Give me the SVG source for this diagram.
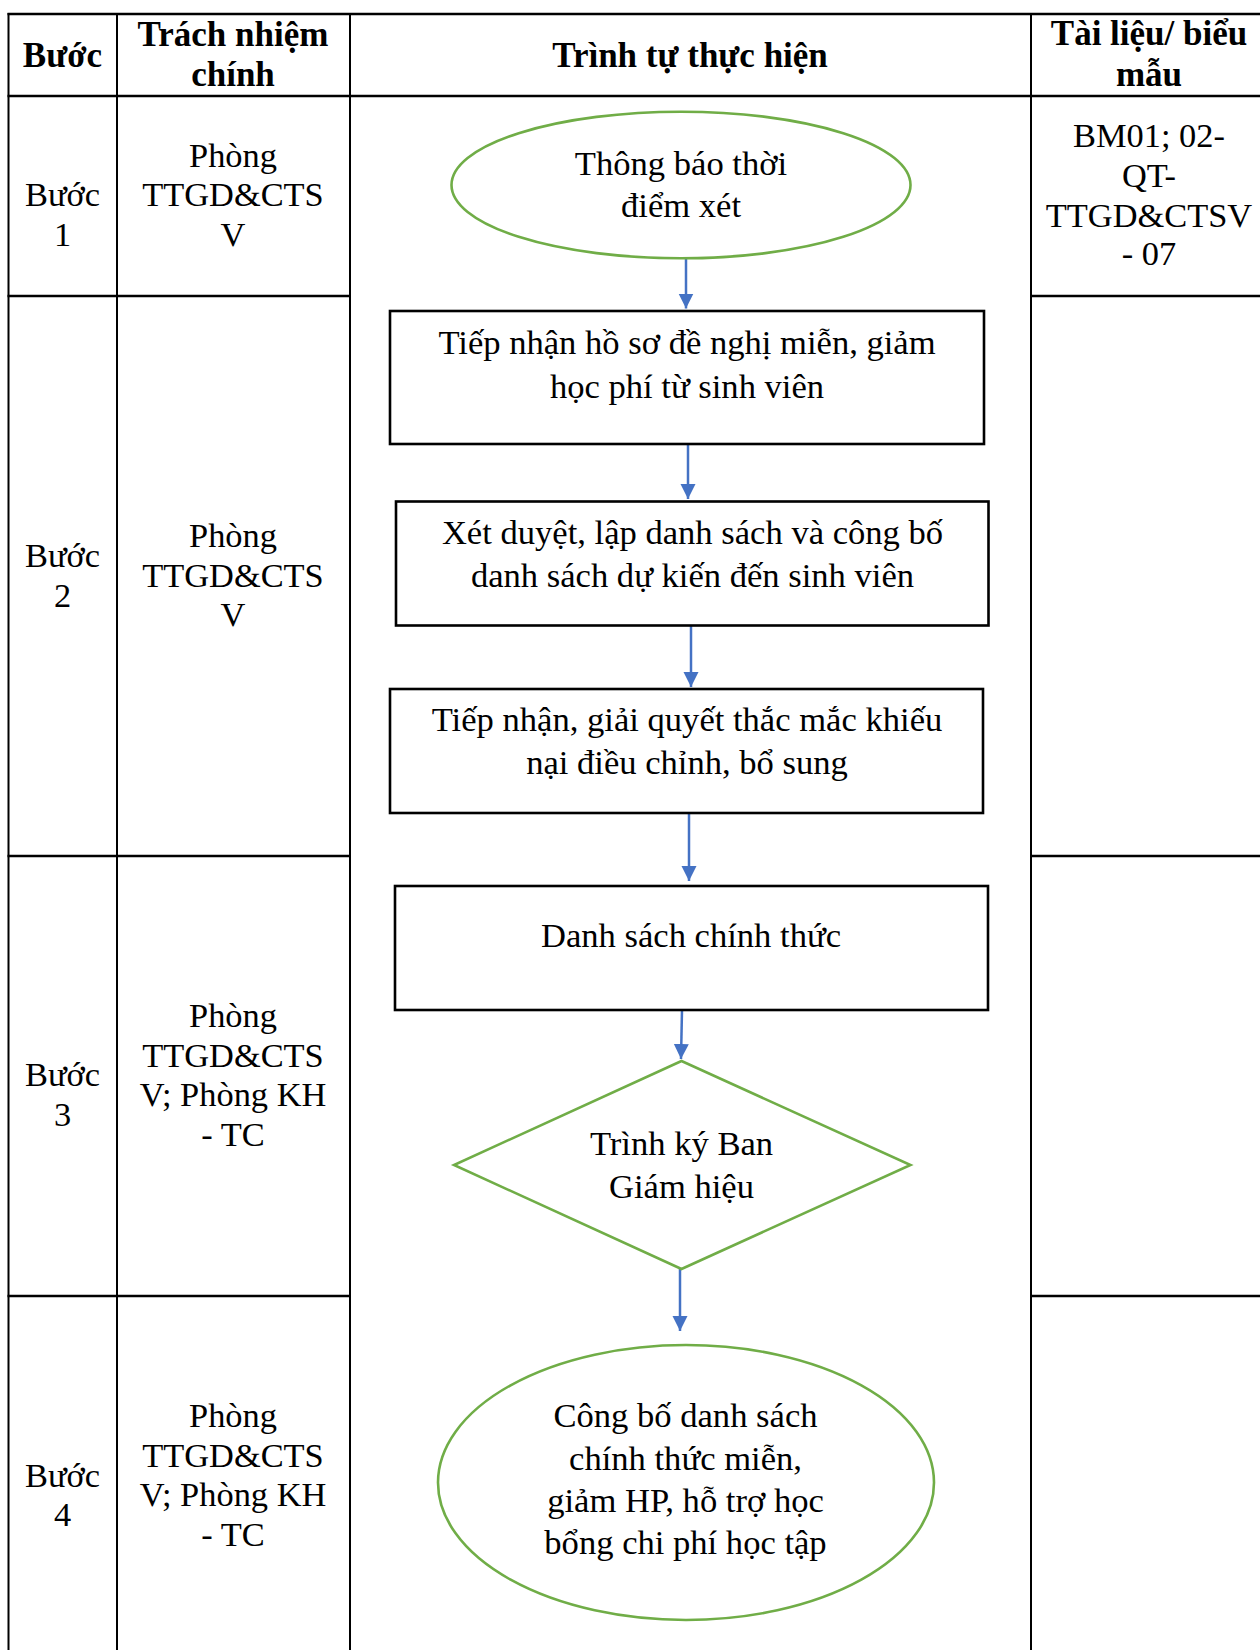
<svg xmlns="http://www.w3.org/2000/svg" width="1260" height="1650" viewBox="0 0 1260 1650">
<defs>
<style>
text{font-family:"Liberation Serif","Times New Roman",serif;fill:#000;text-anchor:middle}
.h{font-weight:bold;font-size:35px}
.t{font-size:34.4px}
.f{font-size:34.6px}
.hl{stroke:#000;stroke-width:2.5;fill:none}
.vl{stroke:#000;stroke-width:2;fill:none}
.box{fill:#fff;stroke:#000;stroke-width:2.6}
.grn{fill:#fff;stroke:#70AD47;stroke-width:2.6}
.arr{stroke:#4472C4;stroke-width:2.5;fill:none;marker-end:url(#ah)}
</style>
<marker id="ah" markerUnits="userSpaceOnUse" markerWidth="16" markerHeight="16" refX="15" refY="7.5" orient="auto">
<path d="M0,0 L15,7.5 L0,15 z" fill="#4472C4"/>
</marker>
</defs>
<rect width="1260" height="1650" fill="#fff"/>
<g id="table">
<line class="hl" x1="7.5" y1="14" x2="1260" y2="14"/>
<line class="hl" x1="7.5" y1="96" x2="1260" y2="96"/>
<line class="hl" x1="7.5" y1="296" x2="350" y2="296"/>
<line class="hl" x1="1031" y1="296" x2="1260" y2="296"/>
<line class="hl" x1="7.5" y1="856" x2="350" y2="856"/>
<line class="hl" x1="1031" y1="856" x2="1260" y2="856"/>
<line class="hl" x1="7.5" y1="1296" x2="350" y2="1296"/>
<line class="hl" x1="1031" y1="1296" x2="1260" y2="1296"/>
<line class="vl" x1="8.5" y1="13" x2="8.5" y2="1650"/>
<line class="vl" x1="117" y1="13" x2="117" y2="1650"/>
<line class="vl" x1="350" y1="13" x2="350" y2="1650"/>
<line class="vl" x1="1031" y1="13" x2="1031" y2="1650"/>
</g>
<g id="header">
<text class="h" x="62.5" y="67">Bước</text>
<text class="h" x="233" y="46">Trách nhiệm</text>
<text class="h" x="233" y="86">chính</text>
<text class="h" x="690" y="67">Trình tự thực hiện</text>
<text class="h" x="1149" y="45">Tài liệu/ biểu</text>
<text class="h" x="1149" y="86">mẫu</text>
</g>
<g id="row1">
<text class="t" x="62.5" y="206">Bước</text>
<text class="t" x="62.5" y="246">1</text>
<text class="t" x="233" y="166.5">Phòng</text>
<text class="t" x="233" y="206">TTGD&amp;CTS</text>
<text class="t" x="233" y="246">V</text>
<text class="t" x="1149" y="146.5">BM01; 02-</text>
<text class="t" x="1149" y="186.5">QT-</text>
<text class="t" x="1149" y="226.5">TTGD&amp;CTSV</text>
<text class="t" x="1149" y="265">- 07</text>
</g>
<g id="row2">
<text class="t" x="62.5" y="567">Bước</text>
<text class="t" x="62.5" y="607">2</text>
<text class="t" x="233" y="547">Phòng</text>
<text class="t" x="233" y="587">TTGD&amp;CTS</text>
<text class="t" x="233" y="626">V</text>
</g>
<g id="row3">
<text class="t" x="62.5" y="1086">Bước</text>
<text class="t" x="62.5" y="1126">3</text>
<text class="t" x="233" y="1027">Phòng</text>
<text class="t" x="233" y="1067">TTGD&amp;CTS</text>
<text class="t" x="233" y="1106">V; Phòng KH</text>
<text class="t" x="233" y="1146">- TC</text>
</g>
<g id="row4">
<text class="t" x="62.5" y="1487">Bước</text>
<text class="t" x="62.5" y="1526">4</text>
<text class="t" x="233" y="1427">Phòng</text>
<text class="t" x="233" y="1467">TTGD&amp;CTS</text>
<text class="t" x="233" y="1506">V; Phòng KH</text>
<text class="t" x="233" y="1546">- TC</text>
</g>
<g id="connectors">
<line class="arr" x1="686" y1="258" x2="686" y2="308.5"/>
<line class="arr" x1="688" y1="444" x2="688" y2="499"/>
<line class="arr" x1="691" y1="626" x2="691" y2="687"/>
<line class="arr" x1="689" y1="813" x2="689" y2="881"/>
<line class="arr" x1="682" y1="1010" x2="681" y2="1059"/>
<line class="arr" x1="680" y1="1269" x2="680" y2="1331"/>
</g>
<g id="n1">
<ellipse class="grn" cx="681" cy="185" rx="229.5" ry="73.3"/>
<text class="f" x="681" y="175">Thông báo thời</text>
<text class="f" x="681" y="217">điểm xét</text>
</g>
<g id="n2">
<rect class="box" x="390" y="311" width="594" height="133"/>
<text class="f" x="687" y="354">Tiếp nhận hồ sơ đề nghị miễn, giảm</text>
<text class="f" x="687" y="398">học phí từ sinh viên</text>
</g>
<g id="n3">
<rect class="box" x="396" y="501.5" width="592.5" height="124"/>
<text class="f" x="692.5" y="543.5">Xét duyệt, lập danh sách và công bố</text>
<text class="f" x="692.5" y="586.5">danh sách dự kiến đến sinh viên</text>
</g>
<g id="n4">
<rect class="box" x="390" y="689" width="593" height="124"/>
<text class="f" x="687" y="730.5">Tiếp nhận, giải quyết thắc mắc khiếu</text>
<text class="f" x="687" y="773.5">nại điều chỉnh, bổ sung</text>
</g>
<g id="n5">
<rect class="box" x="395" y="886" width="593" height="124"/>
<text class="f" x="691" y="947">Danh sách chính thức</text>
</g>
<g id="n6">
<polygon class="grn" points="681.5,1061 910.5,1165 681.5,1269 454,1165"/>
<text class="f" x="681.5" y="1155">Trình ký Ban</text>
<text class="f" x="681.5" y="1198">Giám hiệu</text>
</g>
<g id="n7">
<ellipse class="grn" cx="686" cy="1482.5" rx="248" ry="137.5"/>
<text class="f" x="685.5" y="1427">Công bố danh sách</text>
<text class="f" x="685.5" y="1469.5">chính thức miễn,</text>
<text class="f" x="685.5" y="1512">giảm HP, hỗ trợ học</text>
<text class="f" x="685.5" y="1554">bổng chi phí học tập</text>
</g>
</svg>
